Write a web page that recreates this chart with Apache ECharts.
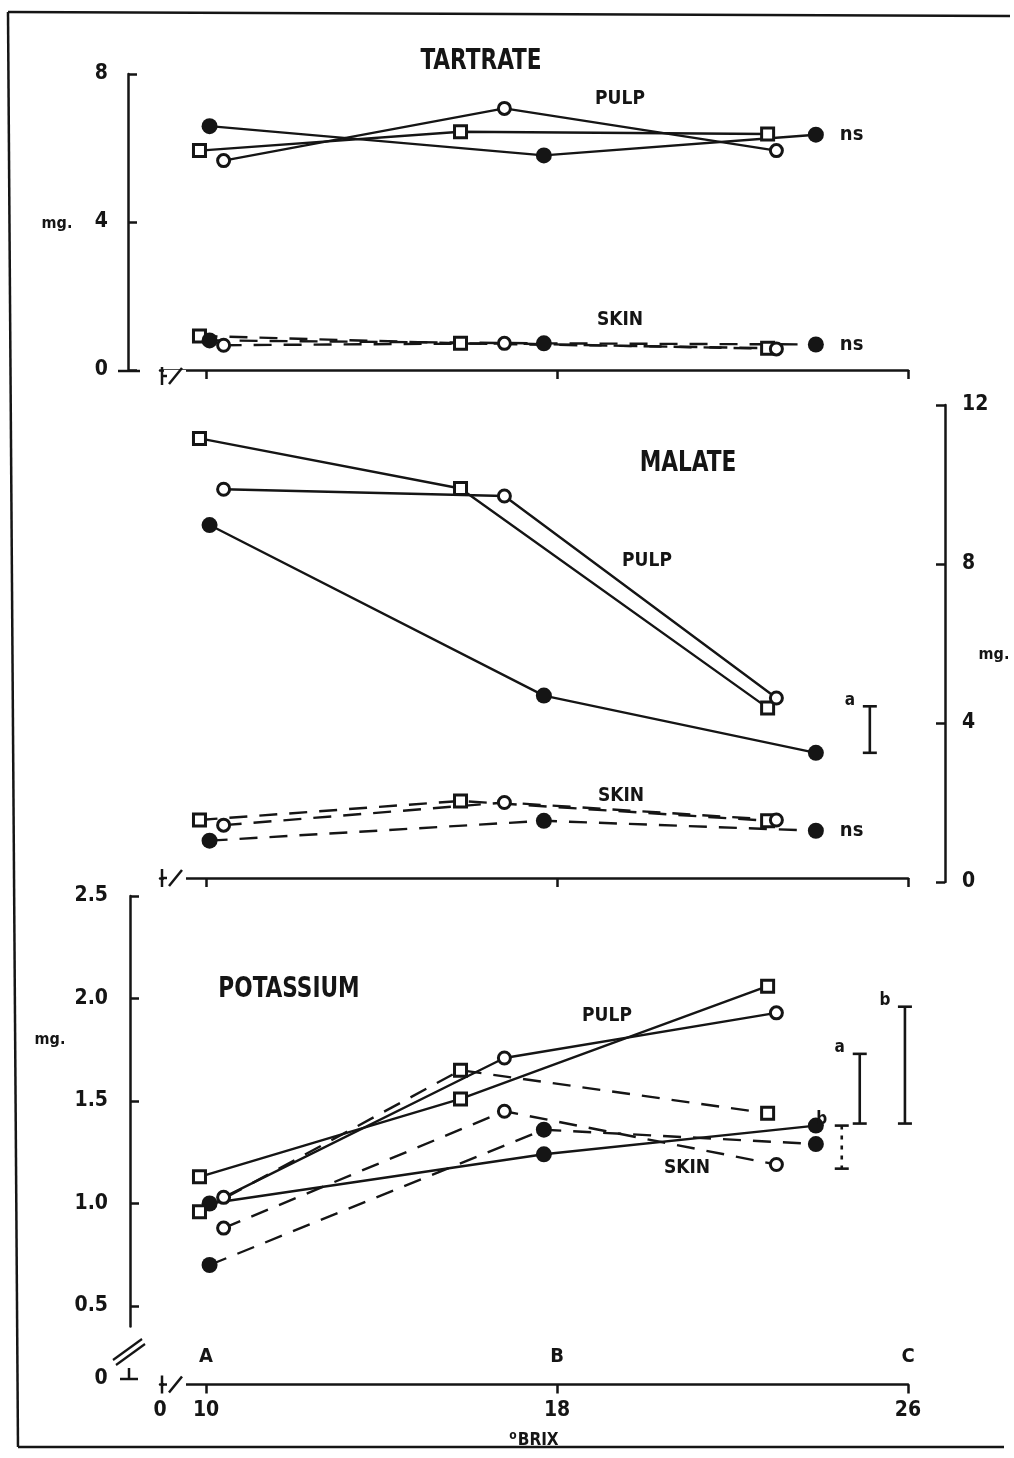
<!DOCTYPE html>
<html><head><meta charset="utf-8">
<script src="https://cdn.jsdelivr.net/npm/echarts@6/dist/echarts.min.js"></script>
<style>html,body{margin:0;padding:0;background:#fff}#c{width:1014px;height:1458px}</style>
</head><body><div id="c"></div>
<script>
// °Brix of each treatment at sampling stages A, B, C
const brixSquare = [9.85, 15.8, 22.8];
const brixOpen   = [10.4, 16.8, 23.0];
const brixFilled = [10.08, 17.7, 23.9];

// Tartrate (mg)
const tartPulpSquare = [5.93, 6.44, 6.38];
const tartPulpOpen   = [5.66, 7.07, 5.93];
const tartPulpFilled = [6.59, 5.80, 6.36];
const tartSkinSquare = [0.92, 0.72, 0.59];
const tartSkinOpen   = [0.67, 0.72, 0.57];
const tartSkinFilled = [0.80, 0.72, 0.69];

// Malate (mg)
const malPulpSquare = [11.16, 9.90, 4.38];
const malPulpOpen   = [9.88, 9.71, 4.63];
const malPulpFilled = [8.98, 4.69, 3.25];
const malSkinSquare = [1.56, 2.04, 1.54];
const malSkinOpen   = [1.43, 2.00, 1.56];
const malSkinFilled = [1.04, 1.54, 1.29];

// Potassium (mg)
const kPulpSquare = [1.13, 1.51, 2.06];
const kPulpOpen   = [1.03, 1.71, 1.93];
const kPulpFilled = [1.00, 1.24, 1.38];
const kSkinSquare = [0.96, 1.65, 1.44];
const kSkinOpen   = [0.88, 1.45, 1.19];
const kSkinFilled = [0.70, 1.36, 1.29];

// error bars: [brix, low, high]
const malErr = [[25.13, 3.25, 4.42]];
const malErrLabels = ['a'];
const kErr = [[24.49, 1.17, 1.38], [24.9, 1.39, 1.73], [25.93, 1.39, 1.96]];
const kErrLabels = ['b', 'a', 'b'];
const kErrDotted = [true, false, false];

const xBreak = 8.95;           // where the broken 0 sits
const xTicks = [10, 18, 26];
const xTickLabels = ['0', '10', '18', '26'];
const stageLabels = ['A', 'B', 'C'];
const tartTicks = [0, 4, 8];
const malTicks = [0, 4, 8, 12];
const kTicks = [0.5, 1.0, 1.5, 2.0, 2.5];

const INK = '#151515';
const FONT = "'Liberation Sans Narrow','DejaVu Sans Condensed','Roboto',sans-serif";
const chart = echarts.init(document.getElementById('c'), null, {renderer: 'canvas'});

function pts(xs, ys) { return xs.map((x, i) => [x, ys[i]]); }

function ser(xs, ys, panel, kind, skin, ns) {
  const filled = kind === 'filled';
  const s = {
    type: 'line', xAxisIndex: panel, yAxisIndex: panel,
    data: pts(xs, ys),
    symbol: kind === 'square' ? 'rect' : 'circle',
    symbolSize: filled ? 16 : 12,
    itemStyle: {color: filled ? INK : '#fff', borderColor: INK, borderWidth: filled ? 0 : 3},
    lineStyle: {color: INK, width: 2.4, type: skin ? [18, 12] : 'solid'},
    silent: true, animation: false, z: 3
  };
  if (ns) {
    s.endLabel = {show: true, formatter: 'ns', color: INK, fontFamily: FONT, fontWeight: 'bold', fontSize: 20, distance: 24};
  }
  return s;
}

function errSeries(panel, data, labels, dotted) {
  return {
    type: 'custom', xAxisIndex: panel, yAxisIndex: panel, data: data, silent: true, animation: false, z: 4,
    renderItem: function (params, api) {
      const x = api.value(0), lo = api.value(1), hi = api.value(2);
      const p1 = api.coord([x, hi]), p2 = api.coord([x, lo]);
      const isDot = dotted && dotted[params.dataIndex];
      const st = {stroke: INK, lineWidth: 2.6, lineDash: isDot ? [4, 6] : null};
      return {type: 'group', children: [
        {type: 'line', shape: {x1: p1[0], y1: p1[1], x2: p2[0], y2: p2[1]}, style: st},
        {type: 'line', shape: {x1: p1[0] - 7, y1: p1[1], x2: p1[0] + 7, y2: p1[1]}, style: {stroke: INK, lineWidth: 2.6}},
        {type: 'line', shape: {x1: p2[0] - 7, y1: p2[1], x2: p2[0] + 7, y2: p2[1]}, style: {stroke: INK, lineWidth: 2.6}},
        {type: 'text', x: p1[0] - 20, y: p1[1] - 6, style: {text: labels[params.dataIndex], fill: INK, font: 'bold 17px ' + FONT, align: 'center', verticalAlign: 'middle'}}
      ]};
    }
  };
}

const axisLineStyle = {color: INK, width: 2.5};
function xAx(grid, offset, withLabels) {
  return {
    type: 'value', gridIndex: grid, position: 'bottom', offset: offset, min: xBreak, max: 26,
    axisLine: {show: true, lineStyle: axisLineStyle},
    axisTick: {show: true, customValues: xTicks, length: 9, lineStyle: {color: INK, width: 2.5}},
    axisLabel: withLabels ? {
      show: true, customValues: [xBreak].concat(xTicks),
      formatter: (v) => xTickLabels[[xBreak].concat(xTicks).indexOf(v)],
      color: INK, fontFamily: FONT, fontWeight: 'bold', fontSize: 21, margin: 16
    } : {show: false},
    splitLine: {show: false},
    name: withLabels ? '{s|o}{b|BRIX}' : '',
    nameLocation: 'middle', nameGap: 45,
    nameTextStyle: {color: INK, rich: {
      s: {fontSize: 12, fontFamily: FONT, fontWeight: 'bold', color: INK, verticalAlign: 'top', padding: [0, 1, 10, 0]},
      b: {fontSize: 17, fontFamily: FONT, fontWeight: 'bold', color: INK}
    }}
  };
}
function yAx(grid, pos, offset, min, max, ticks, margin, fmt) {
  return {
    type: 'value', gridIndex: grid, position: pos, offset: offset, min: min, max: max,
    axisLine: {show: true, lineStyle: axisLineStyle},
    axisTick: {show: true, inside: true, customValues: ticks, length: 9, lineStyle: {color: INK, width: 2.5}},
    axisLabel: {show: true, customValues: ticks, formatter: fmt, color: INK, fontFamily: FONT, fontWeight: 'bold', fontSize: 21, margin: margin},
    splitLine: {show: false}
  };
}

function txt(t, x, y, size, sx) {
  return {type: 'text', x: x, y: y, z: 100, silent: true, scaleX: sx || 1,
    style: {text: t, fill: INK, font: 'bold ' + size + 'px ' + FONT, align: 'center', verticalAlign: 'middle'}};
}
function ln(x1, y1, x2, y2, w) {
  return {type: 'line', z: 100, silent: true, shape: {x1, y1, x2, y2}, style: {stroke: INK, lineWidth: w || 2.5}};
}
function xBreakMark(y) {
  return [
    {type: 'rect', z: 99, silent: true, shape: {x: 164, y: y - 6, width: 22, height: 12}, style: {fill: '#fff'}},
    ln(162, y - 9, 162, y + 9, 2.5),
    ln(162, y, 167, y, 2.5),
    ln(169, y + 8, 182, y - 8, 2.5)
  ];
}

const option = {
  backgroundColor: '#fff',
  animation: false,
  grid: [
    {left: 160, right: 106, top: 74, height: 296},
    {left: 160, right: 106, top: 405, height: 477},
    {left: 160, right: 106, top: 896, height: 430.5}
  ],
  xAxis: [
    xAx(0, 6, false),
    xAx(1, -4, false),
    xAx(2, 58, true),
    {type: 'value', gridIndex: 2, position: 'bottom', offset: 58, min: xBreak, max: 26,
     axisLine: {show: false}, axisTick: {show: false}, splitLine: {show: false},
     axisLabel: {show: true, inside: true, customValues: xTicks, formatter: (v) => stageLabels[xTicks.indexOf(v)],
       color: INK, fontFamily: FONT, fontWeight: 'bold', fontSize: 20, margin: 18}}
  ],
  yAxis: [
    yAx(0, 'left', 32, 0, 8, tartTicks, 20, (v) => String(v)),
    yAx(1, 'right', 37, 0, 12, malTicks, 17, (v) => String(v)),
    yAx(2, 'left', 30, 0.4, 2.5, kTicks, 22, (v) => v.toFixed(1))
  ],
  series: [
    ser(brixSquare, tartPulpSquare, 0, 'square', false),
    ser(brixOpen, tartPulpOpen, 0, 'open', false),
    ser(brixFilled, tartPulpFilled, 0, 'filled', false, true),
    ser(brixSquare, tartSkinSquare, 0, 'square', true),
    ser(brixOpen, tartSkinOpen, 0, 'open', true),
    ser(brixFilled, tartSkinFilled, 0, 'filled', true, true),

    ser(brixSquare, malPulpSquare, 1, 'square', false),
    ser(brixOpen, malPulpOpen, 1, 'open', false),
    ser(brixFilled, malPulpFilled, 1, 'filled', false),
    ser(brixSquare, malSkinSquare, 1, 'square', true),
    ser(brixOpen, malSkinOpen, 1, 'open', true),
    ser(brixFilled, malSkinFilled, 1, 'filled', true, true),
    errSeries(1, malErr, malErrLabels, null),

    ser(brixSquare, kPulpSquare, 2, 'square', false),
    ser(brixOpen, kPulpOpen, 2, 'open', false),
    ser(brixFilled, kPulpFilled, 2, 'filled', false),
    ser(brixSquare, kSkinSquare, 2, 'square', true),
    ser(brixOpen, kSkinOpen, 2, 'open', true),
    ser(brixFilled, kSkinFilled, 2, 'filled', true),
    errSeries(2, kErr, kErrLabels, kErrDotted)
  ],
  graphic: {elements: [].concat(
    [
      // frame
      ln(8, 12, 1010, 16, 2.5), ln(8, 12, 18, 1447, 2.5), ln(18, 1447, 1004, 1447, 2.5),
      // titles and labels
      txt('TARTRATE', 481, 62, 28, 0.86), txt('PULP', 620, 99, 19), txt('SKIN', 620, 320, 19),
      txt('MALATE', 688, 464, 28, 0.86), txt('PULP', 647, 561, 19), txt('SKIN', 621, 796, 19),
      txt('POTASSIUM', 289, 990, 28, 0.86), txt('PULP', 607, 1016, 19), txt('SKIN', 687, 1168, 19),
      txt('mg.', 57, 224, 16), txt('mg.', 994, 655, 16), txt('mg.', 50, 1040, 16),
      // tartrate y base
      ln(118, 371, 140, 371, 2.5),
      // potassium y-axis break and zero
      ln(113, 1360, 142, 1339, 2.2), ln(116, 1365, 145, 1344, 2.2),
      ln(120, 1379, 138, 1379, 2.5), ln(129, 1368, 129, 1379, 2.5),
      txt('0', 101, 1379, 21)
    ],
    xBreakMark(376), xBreakMark(878), xBreakMark(1384.5)
  )}
};
chart.setOption(option);
</script>
</body></html>
